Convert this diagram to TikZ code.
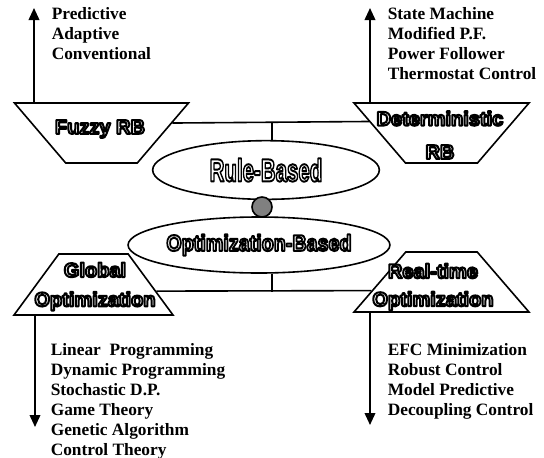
\documentclass[tikz,border=0pt]{standalone}
\usepackage{fontspec}
\setmainfont{Liberation Serif}
\newfontfamily\outfont{Liberation Sans}
\usepackage{graphicx}
\usetikzlibrary{arrows.meta, shapes.geometric}

% white letters with a black rim
\newcommand{\hollow}[1]{\special{pdf:literal direct 0 G 1.5 w 1 j 2 Tr}#1\special{pdf:literal direct 0 Tr}}

\begin{document}
\begin{tikzpicture}[x=0.75pt, y=-0.75pt, line width=1.2pt,
    trap/.style 2 args={draw, trapezium, trapezium stretches=true, inner sep=1pt,
      minimum width=#1, minimum height=45pt, trapezium left angle=#2, trapezium right angle=#2},
    outtext/.style={text=white, align=center, inner sep=0pt, font=\outfont\bfseries\fontsize{15}{18}\selectfont},
    methods/.style={anchor=north west, align=left, inner sep=0pt, font=\bfseries\fontsize{13}{15}\selectfont},
    uparrow/.style={-{Triangle[length=9pt, width=8pt]}}]
  \useasboundingbox (0,0) rectangle (544,458);

  % the four families
  \node[trap={130.5pt}{125.6}] (fuzzy) at (101.5,133) {};
  \node[trap={131.25pt}{125.6}] (det) at (441.5,133) {};
  \node[trap={119.25pt}{57.1}, minimum height=45.75pt] (glob) at (93.5,284.5) {};
  \node[trap={131.25pt}{54.1}] (rt) at (441.5,282) {};

  \node[outtext] (fuzzytext) at (100,129) {\hollow{Fuzzy RB}};
  \node[outtext] (dettext) at (440,135) {\hollow{Deterministic}\\[7pt]\hollow{RB}};
  \node[outtext] (globtext) at (95,286.5) {\hollow{Global}\\[4pt]\hollow{Optimization}};
  \node[outtext] (rttext) at (433,287) {\hollow{Real-time}\\[3pt]\hollow{Optimization}};

  % the two main classes
  \node[draw, ellipse, minimum width=170pt, minimum height=44pt, inner sep=0pt, text=white] (rule) at (266,170)
    {\scalebox{0.64}[1]{\outfont\bfseries\fontsize{24}{24}\selectfont\hollow{Rule-Based}}};
  \node[draw, ellipse, minimum width=168pt, minimum height=42pt, inner sep=0pt, text=white] (opt) at (259,245)
    {\scalebox{0.87}[1]{\outfont\bfseries\fontsize{17}{17}\selectfont\hollow{Optimization-Based}}};
  \node[draw, circle, fill=gray, minimum size=15pt, inner sep=0pt] (hub) at (262,207) {};

  % joins
  \coordinate (rulejoin) at (272,122);
  \coordinate (optjoin) at (272,292);
  \draw (fuzzy.8.5) -- (det.171.5);
  \draw (rulejoin) -- (rulejoin |- rule.north);
  \draw (glob.-6.6) -- (rt.187.7);
  \draw (optjoin |- opt.south) -- (optjoin);

  % method lists
  \coordinate (fuzzytip) at (34,8);
  \coordinate (dettip) at (370,8);
  \coordinate (globtip) at (35,427);
  \coordinate (rttip) at (370,425);
  \draw[uparrow] (fuzzytip |- fuzzy.north) -- (fuzzytip);
  \draw[uparrow] (dettip |- det.north) -- (dettip);
  \draw[uparrow] (globtip |- glob.south) -- (globtip);
  \draw[uparrow] (rttip |- rt.south) -- (rttip);

  \node[methods] (fuzzylist) at (51,7) {Predictive\\Adaptive\\Conventional};
  \node[methods] (detlist) at (387,7) {State Machine\\Modified P.F.\\Power Follower\\Thermostat Control};
  \node[methods] (globlist) at (50,343) {Linear\ \ Programming\\Dynamic Programming\\Stochastic D.P.\\Game Theory\\Genetic Algorithm\\Control Theory};
  \node[methods] (rtlist) at (387,343) {EFC Minimization\\Robust Control\\Model Predictive\\Decoupling Control};
\end{tikzpicture}
\end{document}
